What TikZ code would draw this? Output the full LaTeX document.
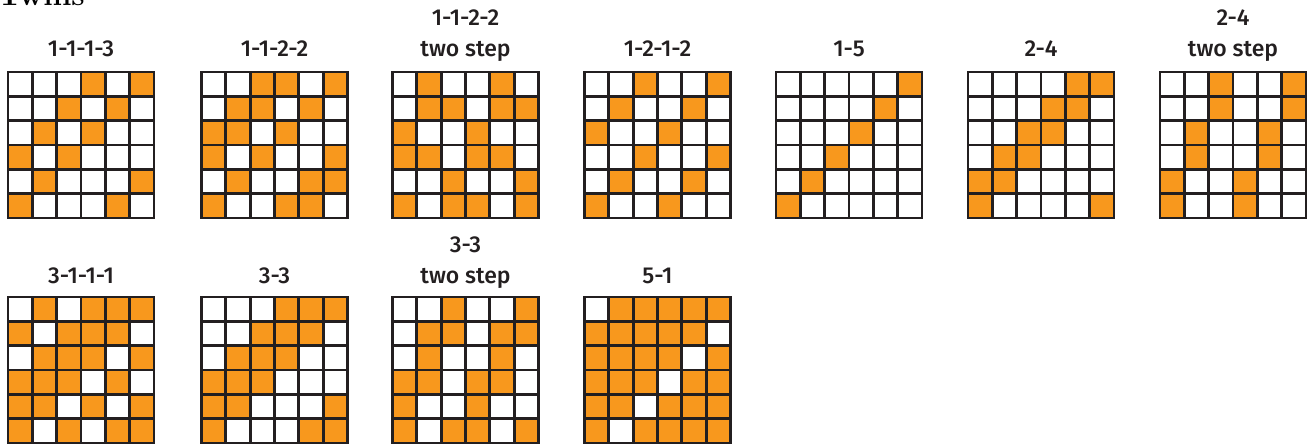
\documentclass[tikz,border=0pt]{standalone}
\usepackage{fontspec}
\setmainfont{Fira Sans}
\newfontfamily\labfont{Fira Sans Medium}
\definecolor{wvorange}{HTML}{F8981D}
\definecolor{wvline}{HTML}{231F20}
\begin{document}
\begin{tikzpicture}[x=1pt,y=-1pt,
  gridline/.style={draw=wvline,line width=2.8pt,line cap=rect},
  cellfill/.style={fill=wvorange},
  lab/.style={font=\labfont\fontsize{23}{27}\selectfont,text=wvline,inner sep=0pt,anchor=base},
  head/.style={font=\fontsize{30}{34}\selectfont,inner sep=0pt,anchor=base west}]
\useasboundingbox[fill=white] (0,0) rectangle (1310,444);
\def\cs{24.33}
\newcommand{\weavegrid}[3]{%
  \begin{scope}[shift={(#1,#2)}]
    \foreach \row [count=\r] in {#3} {
      \foreach \v [count=\c] in \row {
        \ifnum\v=1 \fill[cellfill] ({(\c-1)*\cs},{(\r-1)*\cs}) rectangle ++(\cs,\cs);\fi
      }
    }
    \foreach \i in {0,...,6} {
      \draw[gridline] ({\i*\cs},0) -- ({\i*\cs},{6*\cs});
      \draw[gridline] (0,{\i*\cs}) -- ({6*\cs},{\i*\cs});
    }
  \end{scope}}
% cut-off heading
\begin{scope}
\clip (0,0) rectangle (300,20);
\node[head] (hd) at (-2,6) {\fontspec{Latin Modern Roman}\bfseries Twills};
\end{scope}
% row 1
\weavegrid{8}{72}{{0,0,0,1,0,1},{0,0,1,0,1,0},{0,1,0,1,0,0},{1,0,1,0,0,0},{0,1,0,0,0,1},{1,0,0,0,1,0}}
\weavegrid{201.5}{72}{{0,0,1,1,0,1},{0,1,1,0,1,0},{1,1,0,1,0,0},{1,0,1,0,0,1},{0,1,0,0,1,1},{1,0,0,1,1,0}}
\weavegrid{392.5}{72}{{0,1,0,0,1,0},{0,1,1,0,1,1},{1,0,0,1,0,0},{1,1,0,1,1,0},{0,0,1,0,0,1},{1,0,1,1,0,1}}
\weavegrid{584.5}{72}{{0,0,1,0,0,1},{0,1,0,0,1,0},{1,0,0,1,0,0},{0,0,1,0,0,1},{0,1,0,0,1,0},{1,0,0,1,0,0}}
\weavegrid{776}{72}{{0,0,0,0,0,1},{0,0,0,0,1,0},{0,0,0,1,0,0},{0,0,1,0,0,0},{0,1,0,0,0,0},{1,0,0,0,0,0}}
\weavegrid{968}{72}{{0,0,0,0,1,1},{0,0,0,1,1,0},{0,0,1,1,0,0},{0,1,1,0,0,0},{1,1,0,0,0,0},{1,0,0,0,0,1}}
\weavegrid{1160}{72}{{0,0,1,0,0,1},{0,0,1,0,0,1},{0,1,0,0,1,0},{0,1,0,0,1,0},{1,0,0,1,0,0},{1,0,0,1,0,0}}
% row 2
\weavegrid{8}{297}{{0,1,0,1,1,1},{1,0,1,1,1,0},{0,1,1,1,0,1},{1,1,1,0,1,0},{1,1,0,1,0,1},{1,0,1,0,1,1}}
\weavegrid{201.5}{297}{{0,0,0,1,1,1},{0,0,1,1,1,0},{0,1,1,1,0,0},{1,1,1,0,0,0},{1,1,0,0,0,1},{1,0,0,0,1,1}}
\weavegrid{392.5}{297}{{0,0,1,0,0,1},{0,1,1,0,1,1},{0,1,0,0,1,0},{1,1,0,1,1,0},{1,0,0,1,0,0},{1,0,1,1,0,1}}
\weavegrid{584.5}{297}{{0,1,1,1,1,1},{1,1,1,1,1,0},{1,1,1,1,0,1},{1,1,1,0,1,1},{1,1,0,1,1,1},{1,0,1,1,1,1}}
% labels row 1
\node[lab] (t1) at (81,56.5) {1-1-1-3};
\node[lab] (t2) at (274.5,56.5) {1-1-2-2};
\node[lab] (t3a) at (465.5,25.5) {1-1-2-2};
\node[lab] (t3b) at (465.5,56.5) {two step};
\node[lab] (t4) at (657.5,56.5) {1-2-1-2};
\node[lab] (t5) at (849,56.5) {1-5};
\node[lab] (t6) at (1041,56.5) {2-4};
\node[lab] (t7a) at (1233,25.5) {2-4};
\node[lab] (t7b) at (1233,56.5) {two step};
% labels row 2
\node[lab] (t8) at (81,283) {3-1-1-1};
\node[lab] (t9) at (274.5,283) {3-3};
\node[lab] (t10a) at (465.5,252.5) {3-3};
\node[lab] (t10b) at (465.5,283) {two step};
\node[lab] (t11) at (657.5,283) {5-1};
\end{tikzpicture}
\end{document}
